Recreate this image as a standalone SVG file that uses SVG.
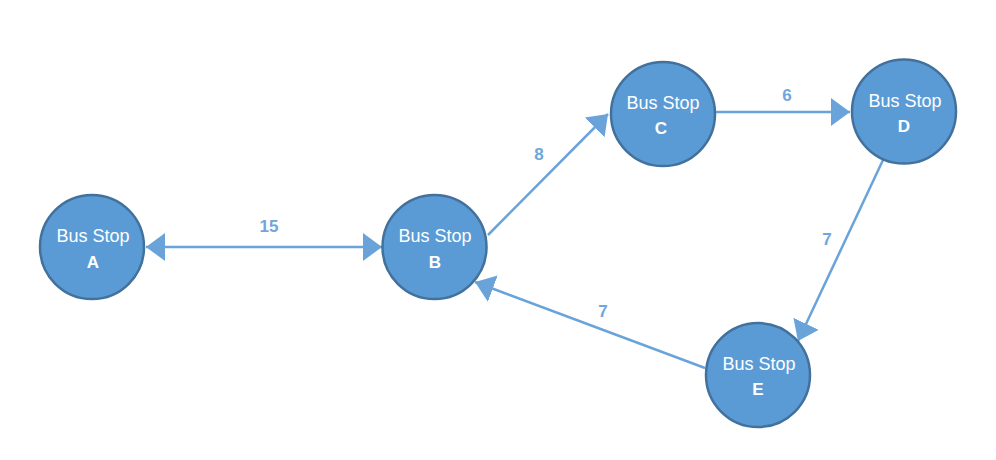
<svg xmlns="http://www.w3.org/2000/svg" width="996" height="460" viewBox="0 0 996 460">
<defs>
<style>
.node circle{fill:#5B9BD5;stroke:#41719C;stroke-width:2.5}
.node text{font-family:"Liberation Sans",Arial,sans-serif;fill:#FFFFFF;text-anchor:middle}
.t1{font-size:18px}
.t2{font-size:17px;font-weight:bold}
.edge{stroke:#6AA3DA;stroke-width:2.5;fill:none}
.lbl{font-family:"Liberation Sans",Arial,sans-serif;font-size:17px;font-weight:bold;fill:#6FA6DB;text-anchor:middle}
</style>
<marker id="arr" markerUnits="userSpaceOnUse" markerWidth="22" markerHeight="30" refX="19" refY="14" orient="auto-start-reverse" viewBox="0 0 22 30">
<path d="M0,0 L19,14 L0,28 Z" fill="#6AA3DA"/>
</marker>
</defs>
<rect width="996" height="460" fill="#FFFFFF"/>
<g id="connectors">
<line class="edge" x1="146" y1="247" x2="382" y2="247" marker-start="url(#arr)" marker-end="url(#arr)"/>
<line class="edge" x1="488" y1="235" x2="608" y2="114" marker-end="url(#arr)"/>
<line class="edge" x1="716" y1="112" x2="850" y2="112" marker-end="url(#arr)"/>
<line class="edge" x1="883" y1="160" x2="798" y2="341" marker-end="url(#arr)"/>
<line class="edge" x1="705" y1="368" x2="475" y2="282" marker-end="url(#arr)"/>
<text class="lbl" x="269" y="232">15</text>
<text class="lbl" x="539" y="160">8</text>
<text class="lbl" x="787" y="101">6</text>
<text class="lbl" x="827" y="245">7</text>
<text class="lbl" x="603" y="317">7</text>
</g>
<g id="nodeA" class="node"><circle cx="92" cy="247" r="52"/><text class="t1" x="93" y="242">Bus Stop</text><text class="t2" x="93" y="268">A</text></g>
<g id="nodeB" class="node"><circle cx="434.5" cy="247" r="52"/><text class="t1" x="435" y="242">Bus Stop</text><text class="t2" x="435" y="268">B</text></g>
<g id="nodeC" class="node"><circle cx="663" cy="114" r="52"/><text class="t1" x="663" y="108.5">Bus Stop</text><text class="t2" x="661" y="134">C</text></g>
<g id="nodeD" class="node"><circle cx="904" cy="111.5" r="52"/><text class="t1" x="905" y="107">Bus Stop</text><text class="t2" x="904" y="132">D</text></g>
<g id="nodeE" class="node"><circle cx="758" cy="375" r="52"/><text class="t1" x="759" y="370">Bus Stop</text><text class="t2" x="758" y="395">E</text></g>
</svg>
